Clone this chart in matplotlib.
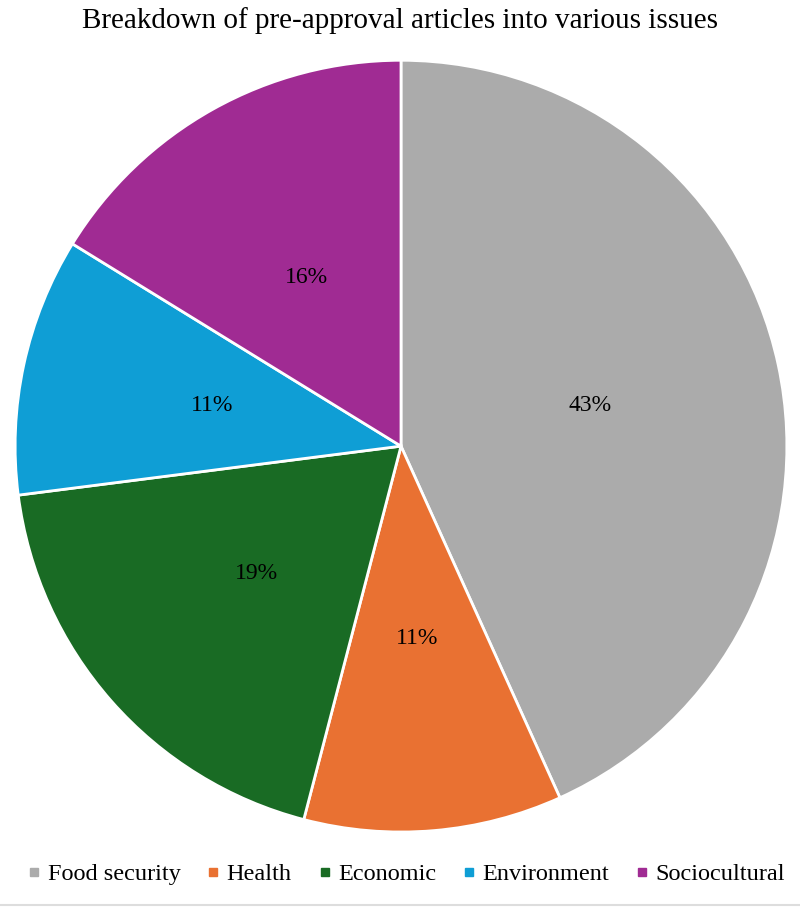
import matplotlib.pyplot as plt
from matplotlib.lines import Line2D

plt.rcParams['font.family'] = ['Liberation Serif', 'DejaVu Serif']

# data: article counts per issue (shown as rounded percentages)
labels = ['Food security', 'Health', 'Economic', 'Environment', 'Sociocultural']
counts = [16, 4, 7, 4, 6]
colors = ['#ABABAB', '#E97132', '#196B24', '#0F9ED5', '#A02B93']

fig = plt.figure(figsize=(8, 9.09), dpi=100)
ax = fig.add_axes([0.01875, 0.0847, 0.965, 0.849])

wedges, texts, autotexts = ax.pie(
    counts, colors=colors, startangle=90, counterclock=False,
    autopct='%.0f%%', pctdistance=0.5, radius=1.0,
    wedgeprops=dict(edgecolor='white', linewidth=2),
    textprops=dict(fontsize=17, color='black'))
ax.set_xlim(-1, 1)
ax.set_ylim(-1, 1)
ax.set_aspect('equal')

fig.text(0.5, 0.977, 'Breakdown of pre-approval articles into various issues',
         ha='center', va='center', fontsize=21)

handles = [Line2D([], [], marker='s', linestyle='none', markersize=5.5,
                  markerfacecolor=c, markeredgecolor=c) for c in colors]
fig.legend(handles, labels, loc='center', bbox_to_anchor=(0.508, 0.0385), ncol=5,
           frameon=False, fontsize=17.5, handlelength=0.5, handletextpad=0.3,
           columnspacing=1.1, borderpad=0.1)

fig.add_artist(Line2D([0, 1], [0.004, 0.004], color='#DDDDDD', linewidth=1.5,
                      transform=fig.transFigure))

fig.savefig('out.png', dpi=100)
